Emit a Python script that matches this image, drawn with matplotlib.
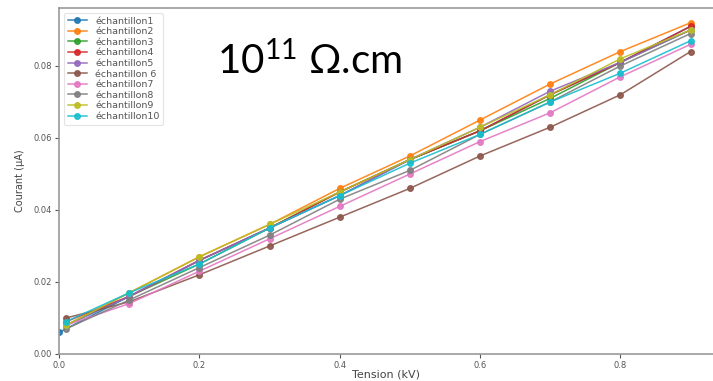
import matplotlib.pyplot as plt

# Tension (kV) values
tension = [0.01, 0.1, 0.2, 0.3, 0.4, 0.5, 0.6, 0.7, 0.8, 0.9]
tension_ech1 = [0.0, 0.1, 0.2, 0.3, 0.4, 0.5, 0.6, 0.7, 0.8, 0.9]

# Courant (uA) per sample
ech1 = [0.006, 0.016, 0.026, 0.035, 0.044, 0.054, 0.062, 0.072, 0.081, 0.091]
ech2 = [0.008, 0.017, 0.027, 0.036, 0.046, 0.055, 0.065, 0.075, 0.084, 0.092]
ech3 = [0.008, 0.016, 0.025, 0.035, 0.045, 0.054, 0.062, 0.071, 0.081, 0.090]
ech4 = [0.009, 0.016, 0.026, 0.035, 0.045, 0.054, 0.062, 0.072, 0.081, 0.091]
ech5 = [0.008, 0.016, 0.026, 0.035, 0.044, 0.054, 0.063, 0.073, 0.081, 0.090]
ech6 = [0.010, 0.0145, 0.022, 0.030, 0.038, 0.046, 0.055, 0.063, 0.072, 0.084]
ech7 = [0.008, 0.014, 0.023, 0.032, 0.041, 0.050, 0.059, 0.067, 0.077, 0.086]
ech8 = [0.007, 0.015, 0.024, 0.033, 0.043, 0.051, 0.061, 0.070, 0.080, 0.089]
ech9 = [0.008, 0.017, 0.027, 0.036, 0.045, 0.054, 0.063, 0.072, 0.082, 0.090]
ech10 = [0.009, 0.017, 0.025, 0.035, 0.044, 0.053, 0.061, 0.070, 0.078, 0.087]

labels = ['échantillon1', 'échantillon2', 'échantillon3', 'échantillon4',
          'échantillon5', 'échantillon 6', 'échantillon7', 'échantillon8',
          'échantillon9', 'échantillon10']
series = [ech1, ech2, ech3, ech4, ech5, ech6, ech7, ech8, ech9, ech10]

fig = plt.figure(figsize=(7.13, 3.81), dpi=100)
ax = fig.add_axes([0.083, 0.071, 0.917, 0.908])

for i, (lab, vals) in enumerate(zip(labels, series)):
    xs = tension_ech1 if i == 0 else tension
    ax.plot(xs, vals, marker='o', markersize=4, linewidth=1.1,
            color='C%d' % i, label=lab, alpha=0.9)

ax.set_xlim(0, 0.932)
ax.set_ylim(0, 0.0961)
ax.set_xticks([0.0, 0.2, 0.4, 0.6, 0.8])
ax.set_yticks([0.00, 0.02, 0.04, 0.06, 0.08])
ax.set_xticklabels(['0.0', '0.2', '0.4', '0.6', '0.8'])
ax.set_yticklabels(['0.00', '0.02', '0.04', '0.06', '0.08'])
ax.tick_params(labelsize=6, colors='#555555', length=3, width=0.8, pad=2)

for side in ['left', 'bottom', 'top']:
    ax.spines[side].set_color('#999999')
    ax.spines[side].set_linewidth(1.2)
ax.spines['right'].set_visible(False)

ax.set_xlabel('Tension (kV)', fontsize=8, color='#444444', labelpad=0)
ax.set_ylabel('Courant (µA)', fontsize=7, color='#444444', labelpad=6)

leg = ax.legend(loc='upper left', fontsize=6.8, frameon=True, handlelength=2.0,
                handletextpad=0.9, labelspacing=0.17, borderpad=0.4,
                borderaxespad=0.5)
leg.get_frame().set_edgecolor('#dddddd')
leg.get_frame().set_linewidth(0.8)
for t in leg.get_texts():
    t.set_color('#555555')

fig.text(0.305, 0.806, r'$\mathregular{10^{11}}$ Ω.cm', fontsize=29,
         family='Lato', color='black', va='baseline')

fig.savefig('out.png', dpi=100)
